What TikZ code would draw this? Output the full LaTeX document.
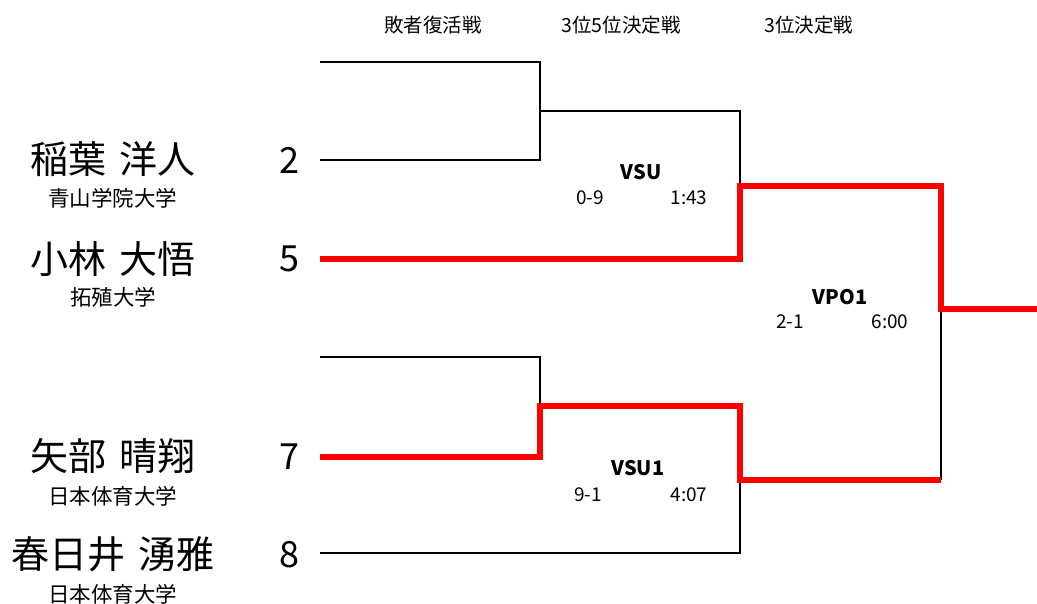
\documentclass[tikz,border=0pt]{standalone}
\usepackage{fontspec}
\setmainfont{Noto Sans CJK JP}
\begin{document}
\begin{tikzpicture}[x=1pt,y=-1pt,
  loser/.style={black, line width=1.6pt},
  winner/.style={red, line width=5.5pt},
  pname/.style={inner sep=0pt, font=\fontsize{38}{40}\selectfont},
  uni/.style={inner sep=0pt, font=\fontsize{21.5}{24}\selectfont},
  seed/.style={inner sep=0pt, font=\fontsize{36}{40}\selectfont},
  head/.style={inner sep=0pt, font=\fontsize{19.5}{22}\selectfont},
  match/.style={inner sep=0pt, font=\bfseries\fontsize{20}{22}\selectfont},
  score/.style={inner sep=0pt, font=\fontsize{19}{21}\selectfont}]
\useasboundingbox (0,0) rectangle (1037,604);

% headers
\node[head] (h1) at (433,25) {敗者復活戦};
\node[head] (h2) at (621,25) {3位5位決定戦};
\node[head] (h3) at (809,25) {3位決定戦};

% players
\node[pname] (n2) at (113,159) {稲葉\hspace{0.32em}洋人};
\node[uni] (u2) at (113,198) {青山学院大学};
\node[pname] (n5) at (113,259) {小林\hspace{0.32em}大悟};
\node[uni] (u5) at (113,297) {拓殖大学};
\node[pname] (n7) at (113,456) {矢部\hspace{0.32em}晴翔};
\node[uni] (u7) at (113,496) {日本体育大学};
\node[pname] (n8) at (113,554) {春日井\hspace{0.32em}湧雅};
\node[uni] (u8) at (113,594) {日本体育大学};

\node[seed] (s2) at (289,160) {2};
\node[seed] (s5) at (289,259) {5};
\node[seed] (s7) at (289,457) {7};
\node[seed] (s8) at (289,555) {8};

% match labels
\node[match] (m1) at (641,172) {VSU};
\node[score] (m1s) at (590,198) {0-9};
\node[score] (m1t) at (689,198) {1:43};
\node[match] (m2) at (638,468) {VSU1};
\node[score] (m2s) at (588,495) {9-1};
\node[score] (m2t) at (689,495) {4:07};
\node[match] (m3) at (840,297) {VPO1};
\node[score] (m3s) at (790,322) {2-1};
\node[score] (m3t) at (890,322) {6:00};

% bracket coordinates
\coordinate (a0) at (320,62);
\coordinate (a1) at (540,62);
\coordinate (a2) at (320,160);
\coordinate (a3) at (540,160);
\coordinate (am) at (540,111);
\coordinate (b1) at (740,111);
\coordinate (c0) at (320,259);
\coordinate (c1) at (740,259);
\coordinate (c2) at (740,186);
\coordinate (c3) at (941,186);
\coordinate (f0) at (941,309);
\coordinate (f1) at (1037,309);
\coordinate (d0) at (320,357);
\coordinate (d1) at (540,357);
\coordinate (dm) at (540,406);
\coordinate (e0) at (320,457);
\coordinate (e1) at (540,457);
\coordinate (e2) at (740,406);
\coordinate (e3) at (740,480);
\coordinate (e4) at (941,480);
\coordinate (g0) at (320,553);
\coordinate (g1) at (740,553);

% losers' lines
\draw[loser] (a0) -- (a1) -- (a3) -- (a2);
\draw[loser] (am) -- (b1) -- (c1);
\draw[loser] (d0) -- (d1) -- (dm);
\draw[loser] (g0) -- (g1) -- (e3);
\draw[loser] (f0) -- (e4);

% winners' lines
\draw[winner] (c0) -- (c1) -- (c2) -- (c3) -- (f0) -- (f1);
\draw[winner] (e0) -- (e1) -- (dm) -- (e2) -- (e3) -- (e4);
\end{tikzpicture}
\end{document}
